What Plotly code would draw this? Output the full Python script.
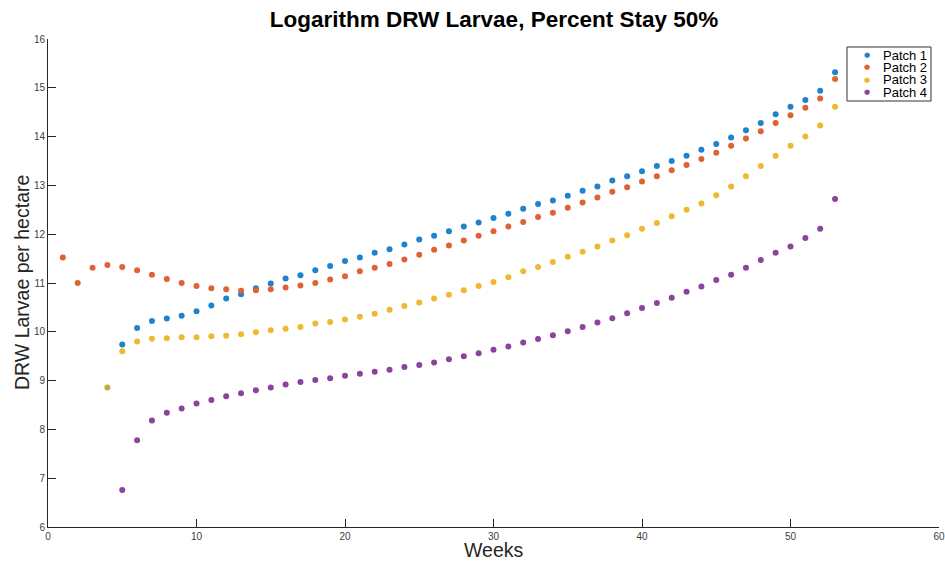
import plotly.graph_objects as go

# weeks for each patch
weeks_p1 = list(range(5, 54))
weeks_p2 = list(range(1, 54))
weeks_p3 = list(range(4, 54))
weeks_p4 = list(range(5, 54))

patch1 = [9.74, 10.08, 10.22, 10.27, 10.33, 10.42, 10.54, 10.68, 10.77, 10.89,
          10.99, 11.09, 11.16, 11.26, 11.35, 11.45, 11.52, 11.62, 11.69, 11.79,
          11.89, 11.97, 12.06, 12.16, 12.24, 12.33, 12.42, 12.52, 12.62, 12.69,
          12.79, 12.89, 12.98, 13.10, 13.19, 13.29, 13.40, 13.50, 13.61, 13.73,
          13.85, 13.98, 14.13, 14.28, 14.46, 14.61, 14.75, 14.94, 15.32]

patch2 = [11.52, 11.00, 11.31, 11.37, 11.33, 11.26, 11.17, 11.08, 11.00, 10.94,
          10.89, 10.87, 10.84, 10.85, 10.87, 10.91, 10.95, 11.00, 11.07, 11.14,
          11.24, 11.31, 11.39, 11.48, 11.58, 11.68, 11.77, 11.87, 11.97, 12.06,
          12.16, 12.25, 12.35, 12.44, 12.54, 12.65, 12.75, 12.87, 12.96, 13.08,
          13.19, 13.31, 13.42, 13.54, 13.67, 13.81, 13.96, 14.11, 14.28, 14.44,
          14.59, 14.78, 15.18]

patch3 = [8.86, 9.60, 9.80, 9.86, 9.87, 9.89, 9.89, 9.91, 9.92, 9.95,
          9.99, 10.03, 10.06, 10.10, 10.17, 10.20, 10.25, 10.31, 10.37, 10.45,
          10.53, 10.60, 10.68, 10.76, 10.85, 10.94, 11.02, 11.12, 11.24, 11.33,
          11.43, 11.54, 11.64, 11.75, 11.87, 11.98, 12.11, 12.23, 12.37, 12.50,
          12.63, 12.80, 12.98, 13.19, 13.40, 13.61, 13.81, 14.00, 14.23, 14.61]

patch4 = [6.76, 7.78, 8.18, 8.34, 8.43, 8.53, 8.60, 8.68, 8.74, 8.80,
          8.86, 8.92, 8.97, 9.01, 9.05, 9.10, 9.14, 9.18, 9.22, 9.28,
          9.32, 9.37, 9.44, 9.50, 9.56, 9.63, 9.70, 9.78, 9.85, 9.93,
          10.01, 10.10, 10.19, 10.28, 10.38, 10.49, 10.59, 10.70, 10.82, 10.93,
          11.06, 11.17, 11.31, 11.47, 11.62, 11.75, 11.92, 12.11, 12.72]

names = ['Patch 1', 'Patch 2', 'Patch 3', 'Patch 4']
colors = ['#1f82cf', '#df6235', '#efb92f', '#8c439c']

fig = go.Figure()

series = [(weeks_p1, patch1), (weeks_p2, patch2), (weeks_p3, patch3), (weeks_p4, patch4)]
for i, (x, y) in enumerate(series):
    col = colors[i]
    if i == 2:
        # the week-4 point shows up darker (overlap) in the original
        col = ['#c9a83a'] + [colors[i]] * (len(y) - 1)
    fig.add_trace(go.Scatter(
        x=x, y=y, mode='markers', name=names[i], showlegend=False,
        marker=dict(size=6, color=col, line=dict(width=0)),
    ))

font = 'Liberation Sans, Arial, sans-serif'

W, H = 945, 561
L, R, T, B = 48, 6, 39, 34
pw, ph = W - L - R, H - T - B

# helpers: page pixel -> paper fraction
def px_x(px):
    return (px - L) / pw

def px_y(py):
    return (H - B - py) / ph

# legend drawn by hand: MATLAB-style compact box in the top right
fig.add_shape(type='rect', xref='paper', yref='paper',
              x0=px_x(847), x1=px_x(931), y0=px_y(101), y1=px_y(47),
              line=dict(color='#333333', width=1), fillcolor='white', layer='above')

for i, name in enumerate(names):
    yy = px_y(55 + i * 12.4)
    fig.add_annotation(x=px_x(866.5), y=yy, xref='paper', yref='paper',
                       text='●', showarrow=False, xanchor='center', yanchor='middle',
                       font=dict(size=7, color=colors[i], family='DejaVu Sans'))
    fig.add_annotation(x=px_x(928), y=yy, xref='paper', yref='paper',
                       text=name, showarrow=False, xanchor='right', yanchor='middle',
                       borderpad=0, font=dict(size=13, color='black', family=font))

# axis titles
fig.add_annotation(x=px_x(493), y=px_y(550), xref='paper', yref='paper',
                   text='Weeks', showarrow=False, xanchor='center', yanchor='middle',
                   font=dict(size=19.5, color='#262626', family=font))
fig.add_annotation(x=px_x(22), y=px_y(283), xref='paper', yref='paper',
                   text='DRW Larvae per hectare', showarrow=False, textangle=-90,
                   xanchor='center', yanchor='middle',
                   font=dict(size=19.5, color='#262626', family=font))

fig.update_layout(
    width=W, height=H,
    margin=dict(l=L, r=R, t=T, b=B, autoexpand=False),
    plot_bgcolor='white', paper_bgcolor='white',
    font=dict(family=font, color='#262626'),
    title=dict(text='<b>Logarithm DRW Larvae, Percent Stay 50%</b>',
               x=494 / W, xanchor='center', y=1 - 19 / H,
               yanchor='middle', yref='container',
               font=dict(size=22.5, color='black', family=font)),
    showlegend=False,
    xaxis=dict(range=[0, 60], tickvals=[0, 10, 20, 30, 40, 50, 60],
               ticks='inside', ticklen=8, tickcolor='#262626',
               showline=True, linecolor='#262626', linewidth=1,
               showgrid=False, zeroline=False, automargin=False,
               ticklabeloverflow='allow',
               tickfont=dict(size=10, color='#404040')),
    yaxis=dict(range=[6, 16], tickvals=list(range(6, 17)),
               ticks='inside', ticklen=8, tickcolor='#262626',
               showline=True, linecolor='#262626', linewidth=1,
               showgrid=False, zeroline=False, automargin=False,
               tickfont=dict(size=10, color='#404040')),
)

# drop the default 8px page margin so the figure fills the window exactly
fig.write_html('out.html', config={'displayModeBar': False},
               post_script="document.body.style.margin='0';document.body.style.overflow='hidden';")
